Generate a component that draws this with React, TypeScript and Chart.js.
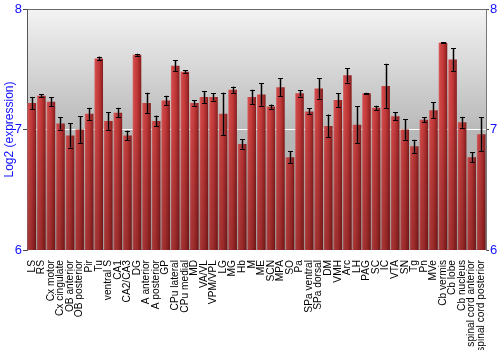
import React, { useEffect, useRef } from "react";
import { Chart, registerables } from "chart.js";

Chart.register(...registerables);

const categories = [
  "LS", "RS", "Cx motor", "Cx cingulate", "OB anterior", "OB posterior", "Pir", "Tu",
  "ventral S", "CA1", "CA2/CA3", "DG", "A anterior", "A posterior", "GP", "CPu lateral",
  "CPu medial", "MD", "VA/VL", "VPM/VPL", "LG", "MG", "Hb", "M", "ME", "SCN", "MPA", "SO",
  "Pa", "SPa ventral", "SPa dorsal", "DM", "VMH", "Arc", "LH", "PAG", "SC", "IC", "VTA",
  "SN", "Tg", "Pn", "MVe", "Cb vermis", "Cb lobe", "Cb nucleus", "spinal cord anterior",
  "spinal cord posterior",
];

const values = [
  7.22, 7.28, 7.23, 7.05, 6.95, 7.0, 7.13, 7.59,
  7.07, 7.14, 6.95, 7.62, 7.22, 7.07, 7.24, 7.53,
  7.48, 7.22, 7.27, 7.27, 7.13, 7.33, 6.88, 7.27, 7.29, 7.19, 7.35, 6.77,
  7.3, 7.15, 7.34, 7.03, 7.245, 7.45, 7.04, 7.3, 7.18, 7.36, 7.11,
  7.0, 6.86, 7.08, 7.16, 7.72, 7.58, 7.06, 6.77,
  6.96,
];

const errors = [
  0.05, 0.012, 0.037, 0.05, 0.1, 0.11, 0.05, 0.015,
  0.073, 0.04, 0.04, 0.008, 0.085, 0.045, 0.04, 0.045,
  0.014, 0.023, 0.049, 0.03, 0.175, 0.026, 0.04, 0.06, 0.094, 0.017, 0.076, 0.05,
  0.027, 0.025, 0.084, 0.094, 0.058, 0.06, 0.155, 0.005, 0.017, 0.185, 0.035,
  0.085, 0.055, 0.02, 0.066, 0.004, 0.095, 0.045, 0.04,
  0.14,
];

const yTicks = [6, 7, 8];

const backgroundPlugin = {
  id: "bgPlugin",
  beforeDraw(chart: any) {
    const { ctx, chartArea } = chart;
    if (!chartArea) return;
    const g = ctx.createLinearGradient(0, chartArea.top, 0, chartArea.bottom);
    g.addColorStop(0, "#f3f3f3");
    g.addColorStop(0.5, "#b9b9b9");
    g.addColorStop(1, "#a2a2a2");
    ctx.save();
    ctx.fillStyle = g;
    ctx.fillRect(chartArea.left, chartArea.top, chartArea.right - chartArea.left, chartArea.bottom - chartArea.top);
    ctx.restore();
  },
  afterDraw(chart: any) {
    const { ctx, chartArea } = chart;
    ctx.save();
    ctx.strokeStyle = "#6a6a6a";
    ctx.lineWidth = 1;
    ctx.beginPath();
    ctx.moveTo(chartArea.left, chartArea.top + 0.5);
    ctx.lineTo(chartArea.right, chartArea.top + 0.5);
    ctx.stroke();
    ctx.restore();
  },
};

const barShadePlugin = {
  id: "barShade",
  afterDatasetsDraw(chart: any) {
    const { ctx, chartArea } = chart;
    const meta = chart.getDatasetMeta(0);
    const yScale = chart.scales.y;
    ctx.save();
    ctx.beginPath();
    ctx.rect(chartArea.left, chartArea.top - 2, chartArea.right - chartArea.left, chartArea.bottom - chartArea.top + 2);
    ctx.clip();
    // vertical darkening toward the bottom
    meta.data.forEach((bar: any) => {
      const w = bar.width;
      const bottom = Math.min(bar.base, chartArea.bottom);
      const g = ctx.createLinearGradient(0, chartArea.top, 0, chartArea.bottom);
      g.addColorStop(0, "rgba(0,0,0,0)");
      g.addColorStop(0.45, "rgba(0,0,0,0.02)");
      g.addColorStop(1, "rgba(40,0,0,0.28)");
      ctx.fillStyle = g;
      ctx.fillRect(bar.x - w / 2, bar.y, w, bottom - bar.y);
    });
    // error bars
    meta.data.forEach((bar: any, i: number) => {
      const v = values[i];
      const e = errors[i];
      const yTop = yScale.getPixelForValue(v + e);
      const yBot = yScale.getPixelForValue(v - e);
      const x = Math.round(bar.x) + 0.5;
      const cap = 2.5;
      ctx.strokeStyle = "rgba(60,60,60,0.35)";
      ctx.lineWidth = 3;
      ctx.beginPath();
      ctx.moveTo(x, yTop);
      ctx.lineTo(x, yBot);
      ctx.stroke();
      ctx.strokeStyle = "#000";
      ctx.lineWidth = 1;
      ctx.beginPath();
      ctx.moveTo(x, yTop);
      ctx.lineTo(x, yBot);
      ctx.moveTo(x - cap, Math.round(yTop) + 0.5);
      ctx.lineTo(x + cap, Math.round(yTop) + 0.5);
      ctx.moveTo(x - cap, Math.round(yBot) + 0.5);
      ctx.lineTo(x + cap, Math.round(yBot) + 0.5);
      ctx.stroke();
    });
    ctx.restore();
  },
};

function barFill(ctx: any) {
  const chart = ctx.chart;
  const xs = chart.scales && chart.scales.x;
  if (!xs || !chart.chartArea) return "#c03a3a";
  const cx = xs.getPixelForValue(ctx.dataIndex);
  const step = (chart.chartArea.right - chart.chartArea.left) / categories.length;
  const w = step * 0.9;
  const g = chart.ctx.createLinearGradient(cx - w / 2, 0, cx + w / 2, 0);
  g.addColorStop(0, "#da6c6c");
  g.addColorStop(0.15, "#d24848");
  g.addColorStop(0.5, "#c53a3a");
  g.addColorStop(0.85, "#9e2626");
  g.addColorStop(1, "#801b1b");
  return g;
}

export default function App() {
  const ref = useRef<HTMLCanvasElement | null>(null);

  useEffect(() => {
    if (!ref.current) return;
    const chart = new Chart(ref.current, {
      type: "bar",
      data: {
        labels: categories,
        datasets: [
          {
            data: values,
            backgroundColor: barFill as any,
            borderWidth: 0,
            barPercentage: 0.9,
            categoryPercentage: 1.0,
          },
        ],
      },
      options: {
        responsive: false,
        animation: false,
        devicePixelRatio: 1,
        layout: { padding: { top: 9, left: 0, right: 0, bottom: 0 } },
        plugins: {
          legend: { display: false },
          tooltip: { enabled: false },
        },
        scales: {
          x: {
            grid: { display: false },
            border: { display: false },
            ticks: {
              autoSkip: false,
              maxRotation: 90,
              minRotation: 90,
              padding: 2,
              color: "#000",
              font: { family: "'Liberation Sans', Arial, sans-serif", size: 10.2 },
            },
            afterFit(scale: any) {
              scale.height = 100;
            },
          },
          y: {
            position: "left",
            min: 6,
            max: 8,
            afterBuildTicks(scale: any) {
              scale.ticks = yTicks.map((v) => ({ value: v }));
            },
            grid: {
              color: (c: any) => (c.tick && c.tick.value === 7 ? "#ffffff" : "rgba(0,0,0,0)"),
              tickColor: "#444",
              tickLength: 4,
              drawTicks: true,
            },
            border: { display: true, color: "#555" },
            ticks: {
              padding: 1,
              color: "#1010ff",
              font: { family: "'Liberation Sans', Arial, sans-serif", size: 13 },
            },
            title: {
              display: true,
              text: "Log2 (expression)",
              color: "#1010ff",
              font: { family: "'Liberation Sans', Arial, sans-serif", size: 12 },
              padding: { top: 2, bottom: 0 },
            },
            afterFit(scale: any) {
              scale.width = 27;
            },
          },
          y2: {
            position: "right",
            min: 6,
            max: 8,
            afterBuildTicks(scale: any) {
              scale.ticks = yTicks.map((v) => ({ value: v }));
            },
            grid: { drawOnChartArea: false, tickColor: "#444", tickLength: 3 },
            border: { display: true, color: "#777" },
            ticks: {
              padding: 1,
              color: "#1010ff",
              font: { family: "'Liberation Sans', Arial, sans-serif", size: 13 },
            },
            afterFit(scale: any) {
              scale.width = 14;
            },
          },
        },
      },
      plugins: [backgroundPlugin, barShadePlugin],
    });
    return () => chart.destroy();
  }, []);

  return (
    <div style={{ position: "fixed", left: 0, top: 0, width: 500, height: 350, background: "#fff" }}>
      <canvas ref={ref} width={500} height={350} style={{ width: 500, height: 350 }} />
    </div>
  );
}
